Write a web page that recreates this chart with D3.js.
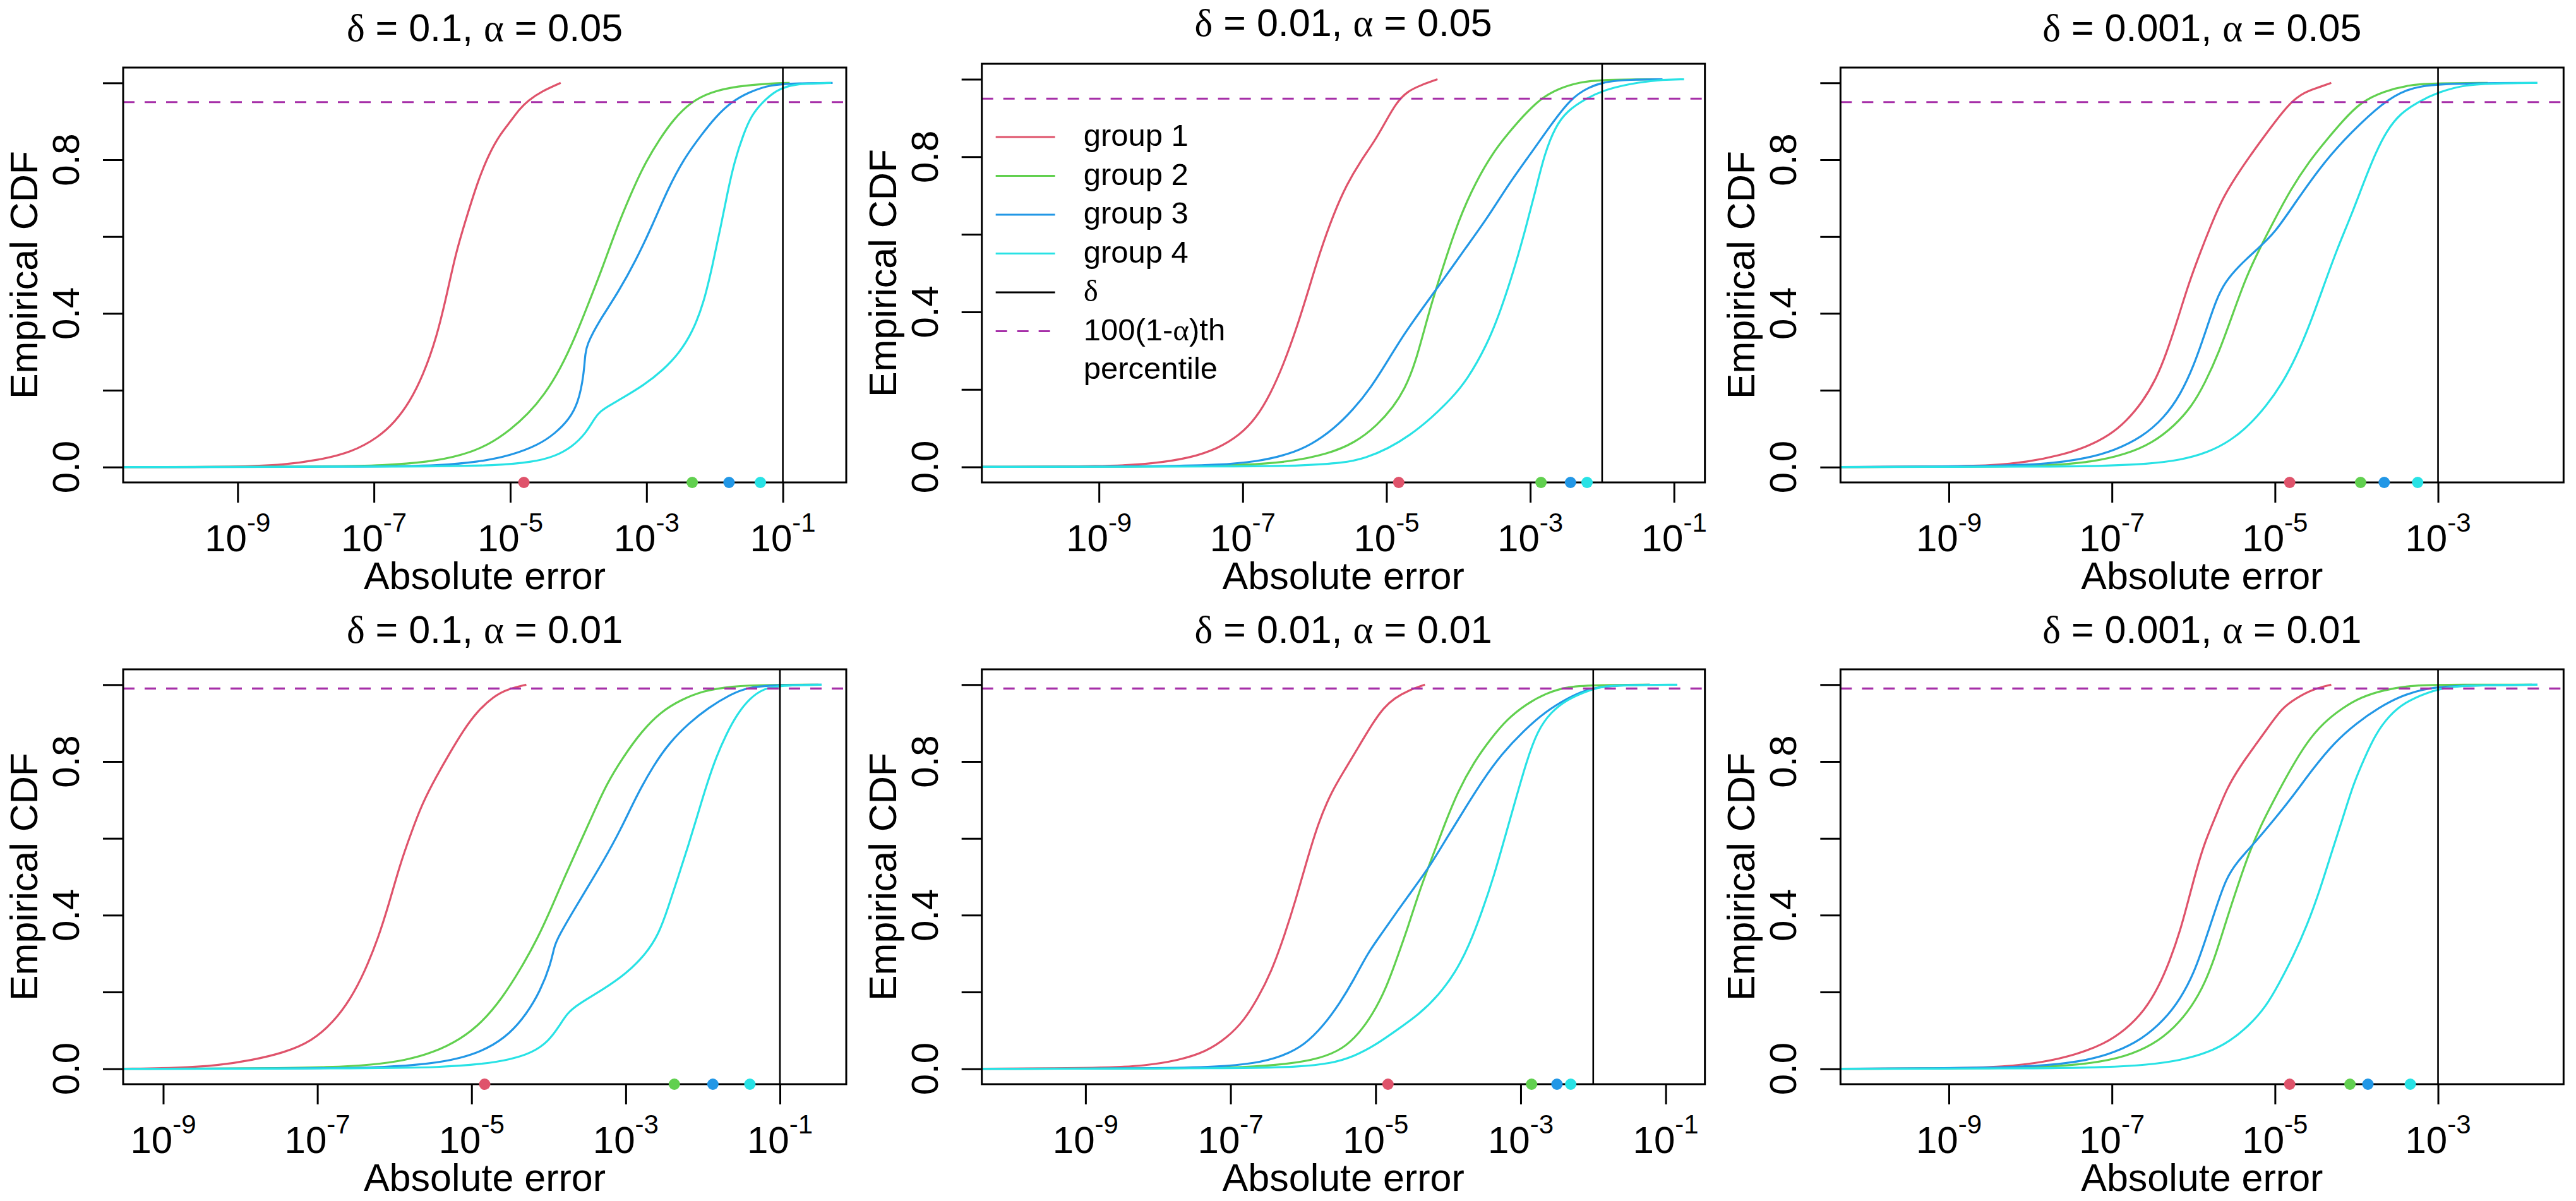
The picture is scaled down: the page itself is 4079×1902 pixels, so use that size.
<!DOCTYPE html>
<html>
<head>
<meta charset="utf-8">
<script src="https://cdn.jsdelivr.net/npm/d3@7"></script>
<style>
  html, body { margin: 0; padding: 0; background: #fff; }
  svg text { font-family: "Liberation Sans", Arial, sans-serif; fill: #000; }
  .greek { font-family: "Liberation Serif", serif; }
</style>
</head>
<body>
<svg id="chart" width="4079" height="1902"></svg>
<script>
// ---- data: [log10(absolute error), empirical CDF] ----
var groupNames = ['group 1', 'group 2', 'group 3', 'group 4'];
var groupColors = ['#DF536B', '#61D04F', '#2297E6', '#28E2E5'];
var deltas = [0.1, 0.01, 0.001, 0.1, 0.01, 0.001];
var deltaLabels = ['0.1', '0.01', '0.001', '0.1', '0.01', '0.001'];
var alphas = [0.05, 0.05, 0.05, 0.01, 0.01, 0.01];
var alphaLabels = ['0.05', '0.05', '0.05', '0.01', '0.01', '0.01'];
// visible x range of each panel, as powers of ten
var xRanges = [[-10.68, -0.07], [-10.63, -0.57], [-10.33, -1.46],
               [-9.52, -0.14], [-10.43, -0.46], [-10.33, -1.46]];
var xTickExps = [-9, -7, -5, -3, -1];
var yTicks = [0, 0.2, 0.4, 0.6, 0.8, 1];
var yTickLabels = ['0.0', '', '0.4', '', '0.8', ''];
// percentile markers on the x axis, per panel, per group (powers of ten)
var dotExps = [[-4.80, -2.33, -1.79, -1.33], [-4.83, -2.85, -2.44, -2.21],
               [-4.82, -3.95, -3.66, -3.25], [-4.83, -2.37, -1.87, -1.39],
               [-4.83, -2.85, -2.50, -2.31], [-4.82, -4.08, -3.86, -3.34]];

// delta = 0.1, alpha = 0.05
var p1g1 = [[-10.68,0],[-8.95,0],[-8.31,0.006],[-7.82,0.018],[-7.33,0.038],[-6.93,0.078],[-6.69,0.118],[-6.48,0.168],[-6.28,0.238],[-6.08,0.337],[-5.92,0.457],[-5.80,0.557],[-5.63,0.657],[-5.47,0.747],[-5.31,0.816],[-5.15,0.866],[-4.99,0.901],[-4.87,0.931],[-4.74,0.954],[-4.54,0.978],[-4.26,1]];
var p1g2 = [[-10.68,0],[-7.66,0.001],[-6.85,0.004],[-6.20,0.013],[-5.71,0.03],[-5.31,0.058],[-4.99,0.098],[-4.74,0.138],[-4.50,0.188],[-4.26,0.257],[-4.05,0.337],[-3.85,0.427],[-3.65,0.517],[-3.45,0.617],[-3.24,0.707],[-3.04,0.786],[-2.80,0.856],[-2.60,0.906],[-2.35,0.95],[-2.07,0.976],[-1.67,0.992],[-1.18,0.999],[-0.90,1]];
var p1g3 = [[-10.68,0],[-6.85,0.001],[-6.04,0.004],[-5.47,0.013],[-4.99,0.03],[-4.58,0.058],[-4.34,0.088],[-4.14,0.123],[-4.00,0.168],[-3.92,0.24],[-3.90,0.30],[-3.86,0.322],[-3.79,0.349],[-3.65,0.392],[-3.41,0.457],[-3.16,0.537],[-2.92,0.627],[-2.68,0.727],[-2.44,0.806],[-2.19,0.866],[-1.99,0.911],[-1.76,0.95],[-1.50,0.976],[-1.18,0.996],[-0.77,0.999],[-0.27,1]];
var p1g4 = [[-10.68,0],[-6.04,0.001],[-5.23,0.004],[-4.66,0.013],[-4.34,0.028],[-4.09,0.053],[-3.89,0.088],[-3.76,0.128],[-3.68,0.145],[-3.55,0.16],[-3.37,0.178],[-3.04,0.213],[-2.76,0.252],[-2.52,0.297],[-2.33,0.35],[-2.16,0.427],[-2.03,0.527],[-1.91,0.627],[-1.81,0.717],[-1.71,0.796],[-1.58,0.866],[-1.46,0.916],[-1.30,0.95],[-1.10,0.981],[-0.85,0.998],[-0.29,1]];

// delta = 0.01, alpha = 0.05
var p2g1 = [[-10.63,0],[-8.87,0.001],[-8.26,0.008],[-7.73,0.023],[-7.35,0.047],[-7.04,0.082],[-6.81,0.127],[-6.62,0.186],[-6.43,0.265],[-6.24,0.364],[-6.09,0.453],[-5.93,0.552],[-5.74,0.651],[-5.55,0.73],[-5.36,0.789],[-5.17,0.839],[-5.02,0.888],[-4.87,0.938],[-4.71,0.969],[-4.52,0.985],[-4.29,1]];
var p2g2 = [[-10.63,0],[-7.73,0.001],[-6.96,0.005],[-6.35,0.013],[-5.82,0.033],[-5.44,0.062],[-5.13,0.107],[-4.90,0.156],[-4.75,0.2],[-4.60,0.265],[-4.41,0.4],[-4.24,0.5],[-4.06,0.604],[-3.83,0.71],[-3.53,0.809],[-3.30,0.862],[-3.10,0.905],[-2.86,0.95],[-2.61,0.976],[-2.31,0.993],[-2.00,0.999],[-1.24,1]];
var p2g3 = [[-10.63,0],[-8.11,0.001],[-7.35,0.005],[-6.81,0.013],[-6.35,0.033],[-6.05,0.057],[-5.74,0.097],[-5.47,0.146],[-5.21,0.206],[-4.98,0.275],[-4.75,0.344],[-4.52,0.404],[-4.21,0.483],[-3.91,0.562],[-3.60,0.641],[-3.30,0.73],[-2.99,0.809],[-2.73,0.878],[-2.44,0.95],[-2.19,0.98],[-1.93,0.995],[-1.62,0.999],[-1.16,1]];
var p2g4 = [[-10.63,0],[-6.96,0.001],[-6.20,0.003],[-5.59,0.01],[-5.29,0.023],[-4.98,0.047],[-4.67,0.082],[-4.37,0.127],[-4.10,0.176],[-3.88,0.224],[-3.60,0.315],[-3.41,0.404],[-3.22,0.512],[-3.07,0.611],[-2.93,0.71],[-2.80,0.809],[-2.65,0.878],[-2.49,0.918],[-2.23,0.95],[-1.93,0.976],[-1.47,0.993],[-1.16,0.999],[-0.86,1]];

// delta = 0.001, alpha = 0.05
var p3g1 = [[-10.33,0],[-9.12,0.001],[-8.45,0.004],[-8.04,0.013],[-7.64,0.03],[-7.30,0.053],[-7.03,0.083],[-6.83,0.118],[-6.63,0.168],[-6.46,0.228],[-6.33,0.297],[-6.19,0.387],[-6.06,0.477],[-5.92,0.557],[-5.79,0.627],[-5.65,0.697],[-5.48,0.756],[-5.32,0.806],[-5.15,0.856],[-5.01,0.896],[-4.81,0.95],[-4.64,0.976],[-4.47,0.988],[-4.31,1]];
var p3g2 = [[-10.33,0],[-8.45,0.001],[-7.77,0.004],[-7.24,0.013],[-6.83,0.033],[-6.50,0.063],[-6.23,0.108],[-6.02,0.158],[-5.86,0.218],[-5.69,0.297],[-5.52,0.397],[-5.35,0.497],[-5.18,0.572],[-5.01,0.642],[-4.81,0.722],[-4.58,0.796],[-4.37,0.851],[-4.17,0.901],[-3.95,0.95],[-3.67,0.978],[-3.34,0.996],[-3.00,0.999],[-2.39,1]];
var p3g3 = [[-10.33,0],[-8.45,0.002],[-7.77,0.008],[-7.30,0.023],[-6.97,0.043],[-6.63,0.078],[-6.36,0.128],[-6.16,0.188],[-5.99,0.267],[-5.86,0.347],[-5.72,0.437],[-5.61,0.482],[-5.45,0.522],[-5.22,0.567],[-5.01,0.607],[-4.74,0.692],[-4.41,0.791],[-4.07,0.871],[-3.67,0.95],[-3.40,0.983],[-3.06,0.999],[-1.78,1]];
var p3g4 = [[-10.33,0],[-7.77,0.001],[-7.10,0.003],[-6.56,0.008],[-6.16,0.018],[-5.82,0.038],[-5.55,0.068],[-5.32,0.108],[-5.11,0.158],[-4.91,0.218],[-4.74,0.287],[-4.58,0.367],[-4.41,0.467],[-4.24,0.567],[-4.07,0.652],[-3.91,0.742],[-3.77,0.816],[-3.63,0.876],[-3.46,0.921],[-3.25,0.95],[-3.00,0.976],[-2.66,0.996],[-2.25,0.999],[-1.78,1]];

// delta = 0.1, alpha = 0.01
var p4g1 = [[-9.52,0],[-8.79,0.002],[-8.29,0.009],[-7.86,0.022],[-7.43,0.042],[-7.07,0.072],[-6.79,0.122],[-6.57,0.182],[-6.39,0.251],[-6.21,0.341],[-6.07,0.431],[-5.93,0.531],[-5.79,0.611],[-5.64,0.691],[-5.46,0.76],[-5.29,0.82],[-5.11,0.88],[-4.93,0.93],[-4.71,0.97],[-4.54,0.988],[-4.29,1]];
var p4g2 = [[-9.52,0],[-7.57,0.001],[-6.86,0.004],[-6.29,0.01],[-5.86,0.022],[-5.50,0.042],[-5.14,0.077],[-4.86,0.122],[-4.61,0.182],[-4.36,0.261],[-4.14,0.341],[-3.96,0.421],[-3.79,0.501],[-3.61,0.581],[-3.43,0.661],[-3.25,0.741],[-3.04,0.81],[-2.79,0.88],[-2.54,0.93],[-2.29,0.96],[-2.00,0.984],[-1.64,0.996],[-1.14,1],[-0.50,1]];
var p4g3 = [[-9.52,0],[-6.86,0.001],[-6.14,0.004],[-5.57,0.012],[-5.14,0.027],[-4.79,0.052],[-4.50,0.092],[-4.29,0.142],[-4.11,0.202],[-3.97,0.275],[-3.93,0.318],[-3.87,0.345],[-3.71,0.401],[-3.50,0.471],[-3.29,0.541],[-3.07,0.621],[-2.86,0.711],[-2.64,0.79],[-2.43,0.85],[-2.18,0.9],[-1.93,0.94],[-1.64,0.975],[-1.43,0.992],[-1.14,0.999],[-0.46,1]];
var p4g4 = [[-9.52,0],[-6.14,0.001],[-5.43,0.004],[-4.86,0.012],[-4.50,0.024],[-4.21,0.042],[-4.00,0.072],[-3.86,0.112],[-3.76,0.145],[-3.62,0.168],[-3.29,0.207],[-3.00,0.247],[-2.75,0.296],[-2.57,0.351],[-2.45,0.42],[-2.32,0.5],[-2.19,0.58],[-2.07,0.66],[-1.95,0.74],[-1.83,0.81],[-1.70,0.87],[-1.55,0.925],[-1.39,0.965],[-1.21,0.99],[-1.00,0.998],[-0.46,1]];

// delta = 0.01, alpha = 0.01
var p5g1 = [[-10.43,0],[-8.71,0.002],[-8.18,0.008],[-7.72,0.022],[-7.34,0.044],[-7.04,0.082],[-6.81,0.127],[-6.63,0.182],[-6.44,0.251],[-6.25,0.351],[-6.10,0.441],[-5.95,0.541],[-5.79,0.641],[-5.61,0.721],[-5.42,0.78],[-5.23,0.84],[-5.04,0.9],[-4.89,0.94],[-4.74,0.965],[-4.55,0.985],[-4.32,1]];
var p5g2 = [[-10.43,0],[-7.57,0.001],[-6.81,0.004],[-6.21,0.012],[-5.76,0.027],[-5.45,0.052],[-5.23,0.092],[-5.04,0.142],[-4.85,0.212],[-4.70,0.291],[-4.55,0.371],[-4.40,0.461],[-4.24,0.541],[-4.06,0.631],[-3.87,0.721],[-3.64,0.8],[-3.41,0.86],[-3.19,0.91],[-2.92,0.95],[-2.66,0.977],[-2.35,0.996],[-1.90,0.999],[-1.22,1]];
var p5g3 = [[-10.43,0],[-7.95,0.001],[-7.19,0.005],[-6.66,0.014],[-6.29,0.032],[-5.98,0.062],[-5.72,0.112],[-5.49,0.172],[-5.30,0.232],[-5.11,0.301],[-4.92,0.351],[-4.70,0.411],[-4.47,0.471],[-4.24,0.531],[-4.02,0.601],[-3.79,0.671],[-3.53,0.75],[-3.26,0.82],[-2.96,0.88],[-2.66,0.93],[-2.35,0.965],[-2.13,0.985],[-1.82,0.998],[-1.22,1]];
var p5g4 = [[-10.43,0],[-6.81,0.001],[-6.06,0.005],[-5.61,0.014],[-5.30,0.032],[-5.00,0.062],[-4.70,0.102],[-4.40,0.142],[-4.13,0.192],[-3.90,0.251],[-3.71,0.321],[-3.53,0.411],[-3.37,0.501],[-3.22,0.601],[-3.07,0.701],[-2.92,0.8],[-2.77,0.88],[-2.58,0.93],[-2.35,0.962],[-2.13,0.98],[-1.90,0.996],[-1.52,0.999],[-0.84,1]];

// delta = 0.001, alpha = 0.01
var p6g1 = [[-10.33,0],[-9.00,0.001],[-8.31,0.005],[-7.84,0.017],[-7.44,0.037],[-7.10,0.064],[-6.83,0.102],[-6.60,0.152],[-6.43,0.212],[-6.29,0.281],[-6.16,0.361],[-6.06,0.441],[-5.96,0.521],[-5.86,0.591],[-5.72,0.661],[-5.59,0.731],[-5.42,0.79],[-5.25,0.84],[-5.08,0.89],[-4.91,0.94],[-4.74,0.965],[-4.54,0.988],[-4.31,1]];
var p6g2 = [[-10.33,0],[-8.45,0.001],[-7.77,0.005],[-7.24,0.014],[-6.83,0.032],[-6.50,0.062],[-6.23,0.107],[-6.02,0.162],[-5.86,0.222],[-5.72,0.301],[-5.59,0.391],[-5.45,0.481],[-5.32,0.561],[-5.18,0.631],[-5.01,0.701],[-4.81,0.78],[-4.61,0.85],[-4.41,0.9],[-4.17,0.94],[-3.94,0.968],[-3.67,0.986],[-3.33,0.999],[-2.72,1],[-1.85,1]];
var p6g3 = [[-10.33,0],[-8.45,0.002],[-7.77,0.009],[-7.30,0.022],[-6.97,0.042],[-6.63,0.077],[-6.36,0.127],[-6.16,0.182],[-5.99,0.251],[-5.86,0.331],[-5.72,0.421],[-5.60,0.496],[-5.46,0.54],[-5.28,0.581],[-5.08,0.631],[-4.81,0.701],[-4.54,0.78],[-4.27,0.85],[-4.00,0.9],[-3.73,0.94],[-3.46,0.97],[-3.20,0.988],[-2.86,0.998],[-1.78,1]];
var p6g4 = [[-10.33,0],[-7.77,0.001],[-7.10,0.004],[-6.56,0.01],[-6.16,0.022],[-5.82,0.042],[-5.55,0.072],[-5.32,0.112],[-5.11,0.162],[-4.95,0.222],[-4.78,0.291],[-4.61,0.371],[-4.44,0.471],[-4.31,0.561],[-4.17,0.651],[-4.04,0.741],[-3.90,0.81],[-3.77,0.87],[-3.60,0.92],[-3.40,0.955],[-3.13,0.98],[-2.86,0.996],[-2.39,0.999],[-1.78,1]];

var curves = [[p1g1, p1g2, p1g3, p1g4], [p2g1, p2g2, p2g3, p2g4], [p3g1, p3g2, p3g3, p3g4],
              [p4g1, p4g2, p4g3, p4g4], [p5g1, p5g2, p5g3, p5g4], [p6g1, p6g2, p6g3, p6g4]];

// ---- layout ----
var W = 4079, cellW = W / 3, rowY = [0, 953];
var svg = d3.select('#chart');
var pctColor = '#A62FA8';

function greekText(sel, parts) {
  // parts: list of [text, isGreek]
  parts.forEach(function(p) {
    sel.append('tspan').attr('class', p[1] ? 'greek' : null).text(p[0]);
  });
}

curves.forEach(function(groups, i) {
  var col = i % 3, row = Math.floor(i / 3);
  var cx = col * cellW, cy = rowY[row];
  var left = cx + 195, right = cx + 1340;
  var top = cy + (i === 1 ? 101 : 107), bottom = cy + 764;
  var titleY = cy + (i === 1 ? 57 : 65);

  var x = d3.scaleLog()
    .domain([Math.pow(10, xRanges[i][0]), Math.pow(10, xRanges[i][1])])
    .range([left, right]);
  var y = d3.scaleLinear().domain([-0.04, 1.04]).range([bottom, top]);

  var g = svg.append('g').attr('class', 'panel');

  // curves
  var line = d3.line()
    .x(function(d) { return x(Math.pow(10, d[0])); })
    .y(function(d) { return y(d[1]); })
    .curve(d3.curveBasis);

  groups.forEach(function(pts, k) {
    g.append('path')
      .attr('d', line(pts))
      .attr('fill', 'none')
      .attr('stroke', groupColors[k])
      .attr('stroke-width', 3.2)
      .attr('stroke-linejoin', 'round');
  });

  // 100(1-alpha)th percentile
  g.append('line')
    .attr('x1', left).attr('x2', right)
    .attr('y1', y(1 - alphas[i])).attr('y2', y(1 - alphas[i]))
    .attr('stroke', pctColor).attr('stroke-width', 3.2)
    .attr('stroke-dasharray', '18,16');

  // delta
  g.append('line')
    .attr('x1', x(deltas[i])).attr('x2', x(deltas[i]))
    .attr('y1', top).attr('y2', bottom)
    .attr('stroke', '#000').attr('stroke-width', 2.6);

  // box
  g.append('rect')
    .attr('x', left).attr('y', top)
    .attr('width', right - left).attr('height', bottom - top)
    .attr('fill', 'none').attr('stroke', '#000').attr('stroke-width', 3);

  // x axis
  var ticksX = xTickExps.filter(function(e) {
    return e >= xRanges[i][0] && e <= xRanges[i][1];
  }).map(function(e) { return Math.pow(10, e); });

  g.append('g')
    .attr('transform', 'translate(0,' + bottom + ')')
    .call(d3.axisBottom(x).tickValues(ticksX).tickSize(32).tickFormat(''))
    .call(function(a) {
      a.select('.domain').remove();
      a.selectAll('.tick line').attr('stroke-width', 3);
    });

  var xl = g.selectAll('text.xtick').data(ticksX).enter()
    .append('text').attr('class', 'xtick')
    .attr('x', function(d) { return x(d); })
    .attr('y', bottom + 109)
    .attr('text-anchor', 'middle')
    .style('font-size', '60px');
  xl.append('tspan').text('10');
  xl.append('tspan')
    .attr('dy', -31)
    .style('font-size', '42px')
    .text(function(d) { return '-' + Math.round(-Math.log10(d)); });

  g.append('text')
    .attr('x', (left + right) / 2).attr('y', bottom + 169)
    .attr('text-anchor', 'middle')
    .style('font-size', '61px')
    .text('Absolute error');

  // y axis
  g.append('g')
    .attr('transform', 'translate(' + left + ',0)')
    .call(d3.axisLeft(y).tickValues(yTicks).tickSize(32).tickFormat(''))
    .call(function(a) {
      a.select('.domain').remove();
      a.selectAll('.tick line').attr('stroke-width', 3);
    });

  yTicks.forEach(function(v, k) {
    if (!yTickLabels[k]) return;
    g.append('text')
      .attr('transform', 'translate(' + (left - 70) + ',' + y(v) + ') rotate(-90)')
      .attr('text-anchor', 'middle')
      .style('font-size', '60px')
      .text(yTickLabels[k]);
  });

  g.append('text')
    .attr('transform', 'translate(' + (left - 136) + ',' + ((top + bottom) / 2) + ') rotate(-90)')
    .attr('text-anchor', 'middle')
    .style('font-size', '61px')
    .text('Empirical CDF');

  // title
  var t = g.append('text')
    .attr('x', (left + right) / 2).attr('y', titleY)
    .attr('text-anchor', 'middle')
    .style('font-size', '61px');
  greekText(t, [['\u03B4', true], [' = ' + deltaLabels[i] + ', ', false],
                ['\u03B1', true], [' = ' + alphaLabels[i], false]]);

  // percentile markers
  g.selectAll('circle.dot').data(dotExps[i]).enter()
    .append('circle').attr('class', 'dot')
    .attr('cx', function(d) { return x(Math.pow(10, d)); })
    .attr('cy', y(-0.04))
    .attr('r', 9)
    .attr('fill', function(d, k) { return groupColors[k]; });

  // legend in the second panel
  if (i === 1) {
    var lx = left + 22, step = 61.5, ly = top + 116;
    var items = groupNames.map(function(n, k) {
      return { parts: [[n, false]], color: groupColors[k], dash: null };
    });
    items.push({ parts: [['\u03B4', true]], color: '#000', dash: null });
    items.push({ parts: [['100(1-', false], ['\u03B1', true], [')th', false]], color: pctColor, dash: '18,16' });
    items.push({ parts: [['percentile', false]], color: null, dash: null });

    items.forEach(function(it, k) {
      var yy = ly + k * step;
      if (it.color) {
        g.append('line')
          .attr('x1', lx).attr('x2', lx + 94)
          .attr('y1', yy).attr('y2', yy)
          .attr('stroke', it.color).attr('stroke-width', 3.2)
          .attr('stroke-dasharray', it.dash);
      }
      var tt = g.append('text')
        .attr('x', lx + 139).attr('y', yy + 14)
        .style('font-size', '49px');
      greekText(tt, it.parts);
    });
  }
});
</script>
</body>
</html>
